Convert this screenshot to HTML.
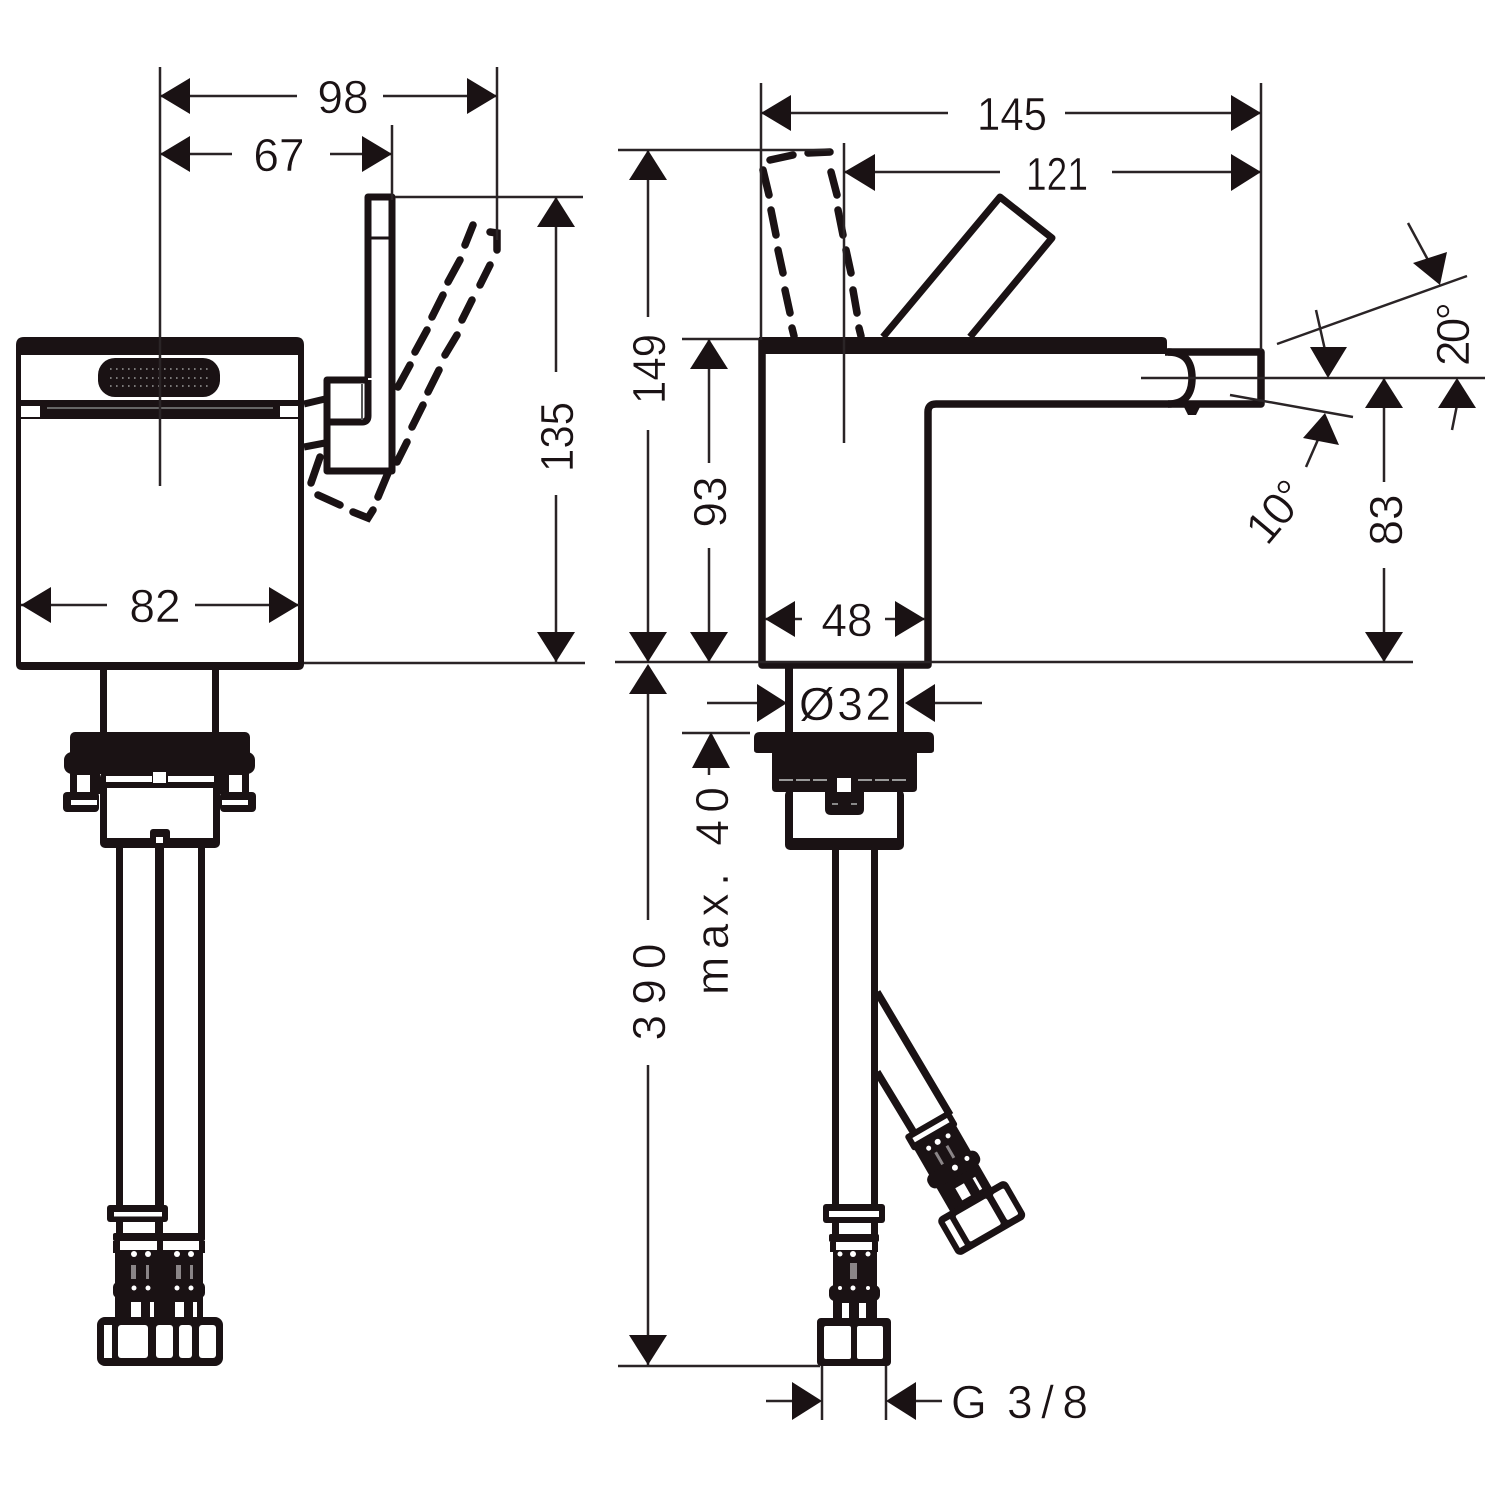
<!DOCTYPE html>
<html><head><meta charset="utf-8"><style>html,body{margin:0;padding:0;background:#fff}svg{display:block}text{font-family:"Liberation Sans",sans-serif;font-size:46px;fill:#1a1214;stroke:#fff;stroke-width:.5}</style></head><body>
<svg width="1500" height="1500" viewBox="0 0 1500 1500" xmlns="http://www.w3.org/2000/svg">
<rect width="1500" height="1500" fill="#fff"/>

<!-- LEFT VIEW BODY -->
<g fill="#1a1214">
<path d="M16 345Q16 337 24 337H296Q304 337 304 345V664Q304 670 298 670H22Q16 670 16 664Z"/>
</g>
<rect x="21" y="355" width="277" height="45" fill="#fff"/>
<rect x="21" y="418" width="277" height="244" fill="#fff"/>
<rect x="21" y="406" width="277" height="12" fill="#fff"/>
<rect x="40" y="406" width="240" height="12" fill="#1a1214"/>
<rect x="47" y="407" width="226" height="2" fill="#666"/>
<rect x="21" y="417" width="277" height="2" fill="#1a1214"/>
<rect x="98" y="358" width="122" height="39" rx="17" fill="#1a1214"/>
<path d="M110 369H212M110 378H212M110 386H212" stroke="#999" stroke-width="1.6" stroke-dasharray="1.6 4.4" fill="none"/>

<!-- LEFT HANDLE -->
<g stroke="#1a1214" stroke-width="7" fill="none" stroke-linejoin="round">
<path d="M368 378V197H392V471H327V380H368"/>
<path d="M327 422H362Q368 422 368 416V380"/>
<path d="M304 404L325 399M304 447L325 443"/>
</g>
<path d="M368 238H392" stroke="#1a1214" stroke-width="3"/>
<path d="M362 384V420" stroke="#555" stroke-width="2"/>
<g stroke="#1a1214" stroke-width="7.5" fill="none" stroke-linecap="round">
<path d="M473 225L465 245M460 260L448 282M443 295L432 317M427 330L415 352M410 365L398 387"/>
<path d="M490 232L497 233V250M490 265L480 285M472 300L462 320M457 335L445 355M439 370L428 392M423 405L412 427M407 442L397 462M388 473L378 497"/>
<path d="M318 495L340 505M353 512L368 518L373 510"/>
<path d="M311 483L320 457"/>
</g>

<!-- LEFT LOWER -->
<g fill="#1a1214">
<rect x="100" y="668" width="7" height="68"/><rect x="212" y="668" width="7" height="68"/>
<rect x="70" y="732" width="180" height="42" rx="5"/><rect x="64" y="752" width="191" height="22" rx="8"/>
<rect x="70" y="770" width="30" height="24"/><rect x="219" y="770" width="30" height="24"/>
<rect x="63" y="792" width="36" height="20" rx="4"/><rect x="220" y="792" width="36" height="20" rx="4"/>
<rect x="100" y="772" width="120" height="76" rx="5"/>
<rect x="116" y="847" width="7" height="360"/><rect x="155" y="847" width="9" height="360"/><rect x="198" y="847" width="7" height="360"/>
</g>
<g fill="#fff">
<rect x="77" y="775" width="13" height="17"/><rect x="229" y="775" width="13" height="17"/>
<rect x="71" y="800" width="26" height="5"/><rect x="222" y="800" width="26" height="5"/>
<rect x="107" y="788" width="106" height="50"/>
<rect x="106" y="776" width="46" height="6"/><rect x="168" y="776" width="46" height="6"/>
<rect x="153" y="772" width="13" height="11"/>
</g>
<rect x="150" y="829" width="20" height="12" rx="3" fill="#1a1214"/>
<rect x="156" y="837" width="7" height="6" fill="#fff"/>

<!-- LEFT FITTINGS -->
<g fill="#1a1214">
<rect x="107" y="1205" width="61" height="17" rx="3"/>
<rect x="116" y="1222" width="7" height="12"/><rect x="155" y="1222" width="8" height="12"/>
<rect x="198" y="1207" width="7" height="28"/>
<rect x="113" y="1233" width="92" height="8" rx="2"/>
<rect x="113" y="1241" width="7" height="12"/><rect x="157" y="1241" width="6" height="12"/><rect x="199" y="1241" width="6" height="12"/>
<rect x="115" y="1250" width="88" height="68"/>
<rect x="113" y="1282" width="92" height="16" rx="5"/>
<rect x="97" y="1317" width="126" height="49" rx="8"/>
</g>
<g fill="#fff">
<rect x="114" y="1212" width="48" height="4.5"/>
<rect x="123" y="1225" width="32" height="8"/>
<rect x="120" y="1241" width="37" height="9"/><rect x="163" y="1241" width="36" height="9"/>
<circle cx="134" cy="1254" r="3"/><circle cx="148" cy="1254" r="3"/><circle cx="177" cy="1254" r="3"/><circle cx="191" cy="1254" r="3"/>
<circle cx="134" cy="1288" r="2.5"/><circle cx="148" cy="1288" r="2.5"/><circle cx="177" cy="1288" r="2.5"/><circle cx="191" cy="1288" r="2.5"/>
<rect x="131" y="1302" width="10" height="15"/><rect x="150" y="1302" width="4" height="15"/><rect x="175" y="1302" width="9" height="15"/><rect x="193" y="1302" width="4" height="15"/>
<rect x="104" y="1325" width="8" height="33"/><rect x="118" y="1325" width="30" height="33" rx="3"/><rect x="156" y="1325" width="17" height="33" rx="3"/><rect x="179" y="1325" width="13" height="33" rx="3"/><rect x="199" y="1325" width="17" height="33" rx="3"/>
</g>
<g fill="#8a8587">
<rect x="131" y="1265" width="5" height="14"/><rect x="146" y="1265" width="3" height="14"/><rect x="176" y="1265" width="5" height="14"/><rect x="190" y="1265" width="3" height="14"/>
</g>

<!-- RIGHT VIEW BODY -->
<g stroke="#1a1214" stroke-width="7.5" fill="none" stroke-linejoin="round">
<path d="M762 340V665H928V412Q928 404 936 404H1168Q1192 404 1192 378Q1192 352 1168 352"/>
<path d="M1165 352H1261V404H1168"/>
</g>
<path d="M759 337H1162Q1167 337 1167 342V354H759Z" fill="#1a1214"/>
<path d="M1184 407H1200L1196 415H1188Z" fill="#1a1214"/>
<path d="M883 337L1000 197L1052 238L970 337" stroke="#1a1214" stroke-width="7" fill="none" stroke-linejoin="round"/>
<g stroke="#1a1214" stroke-width="7.5" fill="none" stroke-linecap="round">
<path d="M770 160L793 155M808 153L830 152"/>
<path d="M763 170L769 195M771 210L776 235M778 250L783 273M785 290L790 313M792 328L794 336"/>
<path d="M831 172L837 195M838 210L843 235M846 250L851 273M853 290L857 313M859 328L861 336"/>
</g>

<!-- RIGHT LOWER -->
<g fill="#1a1214">
<rect x="785" y="668" width="8" height="66"/><rect x="897" y="668" width="7" height="66"/>
<path d="M754 738Q754 732 760 732H928Q934 732 934 738V750Q934 753 930 753H917V788Q917 792 913 792H776Q772 792 772 788V753H758Q754 753 754 750Z"/>
<rect x="785" y="790" width="119" height="60" rx="5"/>
<rect x="832" y="848" width="7" height="360"/><rect x="871" y="848" width="7" height="360"/>
</g>
<rect x="793" y="792" width="104" height="46" fill="#fff"/>
<path d="M825 790H864V809Q864 815 858 815H831Q825 815 825 809Z" fill="#1a1214"/>
<rect x="837" y="778" width="14" height="14" fill="#fff"/>
<path d="M779 780H830M858 780H909" stroke="#999" stroke-width="2" stroke-dasharray="14 3" fill="none"/>
<path d="M832 804H838M851 804H857" stroke="#999" stroke-width="1.8"/>

<!-- RIGHT FITTING -->
<g fill="#1a1214">
<rect x="823" y="1204" width="62" height="19" rx="3"/>
<rect x="832" y="1223" width="7" height="12"/><rect x="871" y="1223" width="7" height="12"/>
<rect x="829" y="1234" width="50" height="8" rx="2"/>
<rect x="830" y="1242" width="6" height="10"/><rect x="872" y="1242" width="6" height="10"/>
<rect x="833" y="1250" width="44" height="68"/>
<rect x="829" y="1285" width="51" height="16" rx="6"/>
<rect x="817" y="1318" width="74" height="48" rx="4"/>
</g>
<g fill="#fff">
<rect x="829" y="1211" width="50" height="6"/>
<rect x="839" y="1223" width="32" height="11"/>
<rect x="836" y="1242" width="36" height="8"/>
<circle cx="840" cy="1254" r="2.5"/><circle cx="853" cy="1254" r="3"/><circle cx="868" cy="1254" r="2.5"/>
<circle cx="840" cy="1288" r="2"/><circle cx="853" cy="1288" r="2.5"/><circle cx="868" cy="1288" r="2"/>
<rect x="842" y="1303" width="7" height="15"/><rect x="859" y="1303" width="7" height="15"/>
<rect x="824" y="1326" width="27" height="33" rx="2"/><rect x="857" y="1326" width="26" height="33" rx="2"/>
</g>
<rect x="850" y="1263" width="7" height="16" fill="#8a8587"/>

<!-- ANGLED HOSE + FITTING -->
<path d="M877 992L950 1115M877 1072L914 1133" stroke="#1a1214" stroke-width="7.5" fill="none"/>
<g transform="translate(927.7,1124.5) rotate(-30)">
<g fill="#1a1214">
<rect x="-26" y="-2" width="52" height="18" rx="3"/>
<rect x="-24" y="15" width="48" height="72"/>
<rect x="-29" y="44" width="58" height="16" rx="7"/>
<rect x="-40" y="86" width="80" height="44" rx="6"/>
</g>
<g fill="#fff">
<rect x="-20" y="4" width="40" height="5"/>
<circle cx="-11" cy="21" r="2.5"/><circle cx="0" cy="20" r="3"/><circle cx="12" cy="20" r="2.5"/>
<circle cx="2" cy="51" r="3"/><circle cx="17" cy="49" r="2.5"/>
<rect x="-8" y="69" width="10" height="14"/><rect x="12" y="69" width="3" height="14"/>
<rect x="-34" y="93" width="6" height="30"/><rect x="-22" y="93" width="36" height="30" rx="2"/><rect x="21" y="93" width="13" height="30" rx="2"/>
</g>
<path d="M-7 28V42M6 28V42" stroke="#8a8587" stroke-width="3"/>
</g>

<!-- THIN LINES -->
<g stroke="#2a2426" stroke-width="2.5" fill="none">
<path d="M160 67V486M497 67V240M392 125V200M395 197H583M304 663H585"/>
<path d="M160 96H297M383 96H497M160 154H232M330 154H392"/>
<path d="M556 197V372M556 495V662M21 605H107M195 605H299"/>
<path d="M761 83V340M1261 83V350M844 143V443M618 150H830M682 339H760"/>
<path d="M761 113H948M1065 113H1261M844 172H1000M1112 172H1261"/>
<path d="M648 150V317M648 430V662M709 339V463M709 548V662M765 619H802M885 619H925"/>
<path d="M1141 378H1485M1277 344L1467 276M1230 395L1353 417M1408 223L1428 260M1316 310L1325 350M1306 467L1320 435M1384 378V482M1384 568V662M1452 430L1457 405"/>
<path d="M615 662H1413M648 692V920M648 1065V1365M618 1366H820M682 733H750M709 765V775"/>
<path d="M707 703H760M932 703H982M766 1401H795M914 1401H942M822 1366V1420M886 1366V1420"/>
</g>

<!-- ARROWHEADS -->
<g fill="#1a1214">
<polygon points="160,96 190,78 190,114"/><polygon points="497,96 467,78 467,114"/>
<polygon points="160,154 190,136 190,172"/><polygon points="392,154 362,136 362,172"/>
<polygon points="556,197 537,227 575,227"/><polygon points="556,662 537,632 575,632"/>
<polygon points="21,605 51,587 51,623"/><polygon points="299,605 269,587 269,623"/>
<polygon points="761,113 791,95 791,131"/><polygon points="1261,113 1231,95 1231,131"/>
<polygon points="844,172 875,154 875,191"/><polygon points="1261,172 1231,154 1231,191"/>
<polygon points="648,150 629,180 667,180"/><polygon points="648,662 629,632 667,632"/>
<polygon points="709,339 690,369 728,369"/><polygon points="709,662 690,632 728,632"/>
<polygon points="765,619 795,601 795,637"/><polygon points="925,619 895,601 895,637"/>
<polygon points="1384,378 1365,408 1403,408"/><polygon points="1384,662 1365,632 1403,632"/>
<polygon points="648,664 629,694 667,694"/><polygon points="648,1365 629,1335 667,1335"/>
<polygon points="711,732 692,768 730,768"/>
<polygon points="787,703 757,684 757,722"/><polygon points="905,703 935,684 935,722"/>
<polygon points="822,1401 792,1382 792,1420"/><polygon points="886,1401 916,1382 916,1420"/>
<polygon points="1440,285 1413,263 1447,252"/><polygon points="1328,378 1310,347 1347,347"/>
<polygon points="1325,413 1303,438 1339,445"/><polygon points="1457,378 1438,408 1476,408"/>
</g>

<!-- LABELS -->
<g>
<text x="343" y="113" text-anchor="middle">98</text>
<text x="279" y="171" text-anchor="middle">67</text>
<text x="155" y="622" text-anchor="middle">82</text>
<text x="1012" y="130" text-anchor="middle" textLength="70" lengthAdjust="spacingAndGlyphs">145</text>
<text x="1057" y="190" text-anchor="middle" textLength="62" lengthAdjust="spacingAndGlyphs">121</text>
<text x="847" y="636" text-anchor="middle">48</text>
<text x="845" y="720" text-anchor="middle" textLength="92" lengthAdjust="spacing">Ø32</text>
<text x="951" y="1418">G</text>
<text x="1007" y="1418" textLength="81" lengthAdjust="spacing">3/8</text>
<text transform="translate(573,437) rotate(-90)" text-anchor="middle" textLength="70" lengthAdjust="spacingAndGlyphs">135</text>
<text transform="translate(665,369) rotate(-90)" text-anchor="middle" textLength="70" lengthAdjust="spacingAndGlyphs">149</text>
<text transform="translate(726,502) rotate(-90)" text-anchor="middle">93</text>
<text transform="translate(1402,520) rotate(-90)" text-anchor="middle">83</text>
<text transform="translate(665,992) rotate(-90)" text-anchor="middle" textLength="97" lengthAdjust="spacing">390</text>
<text transform="translate(728,995) rotate(-90)" textLength="208" lengthAdjust="spacing">max. 40</text>
<text transform="translate(1469,366) rotate(-90)" textLength="64" lengthAdjust="spacing">20°</text>
<text transform="translate(1267,547) rotate(-50)" textLength="66" lengthAdjust="spacing">10°</text>
</g>
</svg>
</body></html>
